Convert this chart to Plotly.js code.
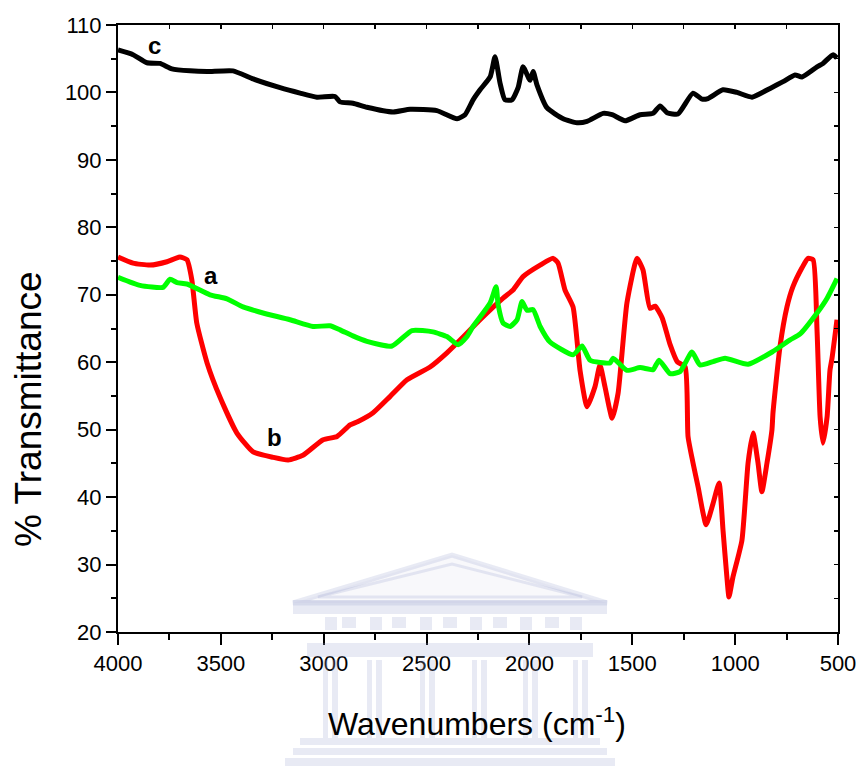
<!DOCTYPE html>
<html>
<head>
<meta charset="utf-8">
<script src="https://cdn.plot.ly/plotly-3.0.1.min.js"></script>
<style>html,body{margin:0;padding:0;background:#fff;}#chart{width:858px;height:766px;}</style>
</head>
<body>
<div id="chart"></div>
<script>
// ---- Data ----
const waveA = [4000,3893,3781,3747,3713,3665,3553,3470,3392,3295,3164,3052,2970,2921,2858,2790,2668,2571,2469,2401,2347,2304,2274,2191,2162,2152,2128,2094,2060,2036,2012,1982,1948,1900,1788,1744,1705,1608,1593,1526,1462,1399,1370,1316,1268,1210,1171,1107,1049,937,816,733,684,602,553,505];
const transA = [72.6,71.4,71.1,72.3,71.8,71.6,70.0,69.4,68.2,67.3,66.3,65.3,65.4,64.8,63.9,63.1,62.4,64.7,64.5,63.8,62.6,63.8,65.3,68.8,71.2,68.5,65.8,65.3,66.3,69.0,67.7,67.8,65.3,63.0,61.1,62.4,60.3,59.9,60.6,58.8,59.2,58.9,60.3,58.3,58.6,61.5,59.6,60.1,60.6,59.7,61.6,63.3,64.2,67.3,69.5,72.4];

const waveB = [4000,3927,3844,3762,3699,3665,3641,3617,3567,3504,3422,3343,3246,3173,3101,3003,2935,2872,2833,2760,2678,2595,2483,2401,2337,2240,2128,2080,2031,1948,1885,1861,1827,1788,1754,1720,1681,1657,1633,1598,1569,1526,1477,1448,1414,1389,1355,1316,1282,1243,1229,1205,1180,1141,1107,1078,1059,1040,1030,1011,967,937,913,889,870,845,821,816,782,748,719,675,646,621,602,587,573,553,539,529,505];
const transB = [75.6,74.7,74.4,74.9,75.6,75.2,72.2,65.8,59.9,54.8,49.5,46.7,45.9,45.5,46.2,48.5,49.0,50.7,51.2,52.5,54.9,57.4,59.3,61.4,63.3,66.3,69.5,70.7,72.7,74.4,75.4,74.7,70.7,68.2,58.8,53.4,56.4,59.6,56.4,51.7,55.4,68.8,75.4,73.7,68.0,68.3,66.6,62.6,60.1,59.3,49.0,45.1,41.5,35.9,39.1,42.1,35.1,28.1,25.2,28.1,33.6,45.1,49.5,45.1,40.8,45.1,50.0,52.5,62.3,68.2,71.2,74.0,75.4,75.2,64.8,51.9,48.0,51.9,58.8,60.6,66.3];

const waveC = [4000,3927,3859,3796,3738,3650,3567,3441,3343,3212,3115,3033,2945,2921,2858,2790,2663,2580,2450,2352,2313,2274,2240,2191,2167,2143,2119,2085,2055,2031,1997,1982,1963,1914,1836,1769,1720,1642,1598,1535,1462,1399,1365,1331,1278,1205,1161,1132,1059,991,918,830,767,709,675,602,573,524,505];
const transC = [106.3,105.6,104.4,104.3,103.5,103.2,103.1,103.2,102.0,100.7,99.9,99.3,99.4,98.6,98.4,97.8,97.1,97.5,97.3,96.1,96.7,98.9,100.4,102.3,105.3,101.4,98.9,98.9,100.7,103.8,101.8,103.1,101.1,97.7,96.1,95.5,95.7,96.9,96.7,95.8,96.7,96.9,98.0,97.0,96.8,99.9,99.0,99.1,100.4,100.0,99.3,100.6,101.6,102.6,102.3,103.8,104.3,105.6,105.1];

const seriesLabels = ['a','b','c'];
const labelWave = [3548, 3237, 3825];
const labelTrans = [72.9, 48.9, 106.9];

const xTitle = 'Wavenumbers (cm<sup>-1</sup>)';
const yTitle = '% Transmittance';

// ---- Styling ----
const FONT = 'Liberation Sans, Arial, Helvetica, sans-serif';
const LW = 5;

const traces = [
  {x: waveB, y: transB, mode: 'lines', line: {color: '#ff0000', width: LW, shape: 'spline', smoothing: 0.5}, name: 'b', hoverinfo: 'skip'},
  {x: waveA, y: transA, mode: 'lines', line: {color: '#00ff00', width: LW, shape: 'spline', smoothing: 0.5}, name: 'a', hoverinfo: 'skip'},
  {x: waveC, y: transC, mode: 'lines', line: {color: '#000000', width: LW, shape: 'spline', smoothing: 0.5}, name: 'c', hoverinfo: 'skip'},
  {x: [], y: [], xaxis: 'x2', yaxis: 'y2', mode: 'lines', showlegend: false, hoverinfo: 'skip'}
];

// pixel -> paper helpers for the decorative watermark
const PL = 118, PR = 838, PT = 25, PB = 632;
const px = v => (v - PL) / (PR - PL);
const py = v => (PB - v) / (PB - PT);
const wmCol = 'rgba(160,168,210,0.24)';
const shapes = [];
function rect(x0, y0, x1, y1) {
  shapes.push({type: 'rect', xref: 'paper', yref: 'paper', x0: px(x0), x1: px(x1), y0: py(y1), y1: py(y0),
    fillcolor: wmCol, line: {width: 0}, layer: 'above'});
}
shapes.push({type: 'path', xref: 'paper', yref: 'paper', layer: 'above',
  path: `M ${px(293)} ${py(603)} L ${px(452)} ${py(555)} L ${px(607)} ${py(603)} Z`,
  fillcolor: 'rgba(160,168,210,0.08)', line: {color: wmCol, width: 5}});
shapes.push({type: 'path', xref: 'paper', yref: 'paper', layer: 'above',
  path: `M ${px(318)} ${py(597)} L ${px(452)} ${py(564)} L ${px(582)} ${py(597)} Z`,
  fillcolor: 'rgba(0,0,0,0)', line: {color: wmCol, width: 3}});
rect(293, 600, 607, 614);
[342, 392, 443, 493, 545].forEach(x => rect(x, 617, x + 14, 628));
[325, 370, 420, 470, 520, 570].forEach(x => rect(x, 617, x + 12, 630));
rect(307, 643, 593, 657);
[323, 367, 420, 472, 523, 573].forEach(x => { rect(x, 660, x + 5, 738); rect(x + 9, 660, x + 15, 738); });
rect(300, 738, 600, 745);
rect(293, 748, 607, 755);
rect(285, 758, 615, 766);

const annotations = seriesLabels.map((t, i) => ({
  x: labelWave[i], y: labelTrans[i], xref: 'x', yref: 'y', text: '<b>' + t + '</b>', showarrow: false,
  font: {family: FONT, size: 24, color: '#000'}, xanchor: 'center', yanchor: 'middle'
}));
annotations.push({x: (477 - PL) / (PR - PL), y: py(722), xref: 'paper', yref: 'paper', text: xTitle, showarrow: false,
  font: {family: FONT, size: 32, color: '#000'}, xanchor: 'center', yanchor: 'middle'});
annotations.push({x: px(28), y: py(409), xref: 'paper', yref: 'paper', text: yTitle, showarrow: false, textangle: -90,
  font: {family: FONT, size: 37, color: '#000'}, xanchor: 'center', yanchor: 'middle'});

const layout = {
  width: 858, height: 766,
  margin: {l: PL, r: 858 - PR, t: PT, b: 766 - PB, pad: 0},
  paper_bgcolor: '#fff', plot_bgcolor: '#fff',
  showlegend: false,
  font: {family: FONT, color: '#000'},
  xaxis: {
    range: [4000, 500], tick0: 0, dtick: 500, showgrid: false, zeroline: false,
    showline: true, linecolor: '#000', linewidth: 2,
    ticks: 'outside', ticklen: 11, tickwidth: 2, tickcolor: '#000',
    tickfont: {family: FONT, size: 22, color: '#000'},
    minor: {dtick: 250, ticks: 'outside', ticklen: 6, tickwidth: 2, tickcolor: '#000', showgrid: false}
  },
  yaxis: {
    range: [20, 110], tick0: 0, dtick: 10, showgrid: false, zeroline: false,
    showline: true, linecolor: '#000', linewidth: 2,
    ticks: 'outside', ticklen: 10, tickwidth: 2, tickcolor: '#000',
    tickfont: {family: FONT, size: 22, color: '#000'},
    minor: {dtick: 5, ticks: 'outside', ticklen: 5, tickwidth: 2, tickcolor: '#000', showgrid: false}
  },
  xaxis2: {
    overlaying: 'x', side: 'top', anchor: 'y2', range: [4000, 500], tick0: 0, dtick: 250,
    showgrid: false, zeroline: false, showline: true, linecolor: '#000', linewidth: 2,
    ticks: 'inside', ticklen: 4, tickwidth: 1.5, tickcolor: '#000', showticklabels: false
  },
  yaxis2: {
    overlaying: 'y', side: 'right', anchor: 'x2', range: [20, 110], tick0: 0, dtick: 5,
    showgrid: false, zeroline: false, showline: true, linecolor: '#000', linewidth: 2,
    ticks: 'inside', ticklen: 4, tickwidth: 1.5, tickcolor: '#000', showticklabels: false
  },
  annotations: annotations,
  shapes: shapes
};

Plotly.newPlot('chart', traces, layout, {staticPlot: true, displayModeBar: false});
</script>
</body>
</html>
